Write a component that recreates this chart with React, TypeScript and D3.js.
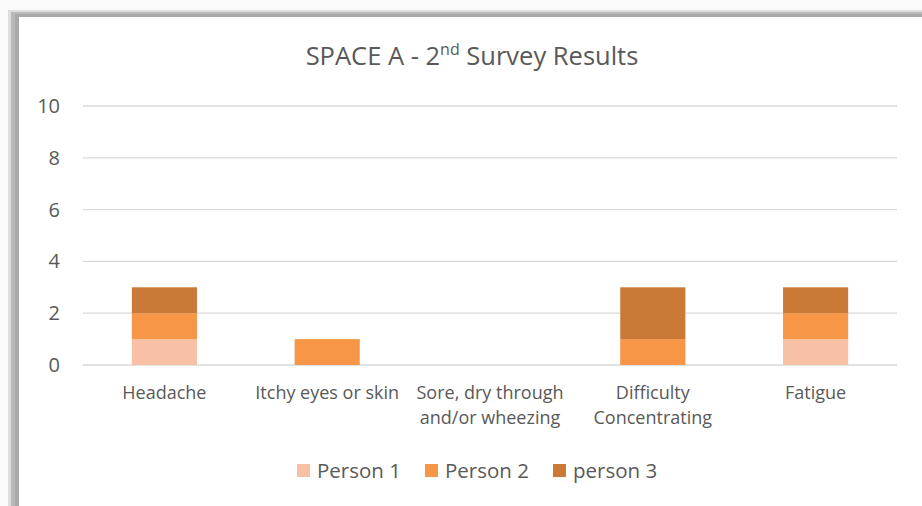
import React from "react";
import * as d3 from "d3";

const categories = [
  ["Headache"],
  ["Itchy eyes or skin"],
  ["Sore, dry through", "and/or wheezing"],
  ["Difficulty", "Concentrating"],
  ["Fatigue"],
];
const seriesNames = ["Person 1", "Person 2", "person 3"];
const person1 = [1, 0, 0, 0, 1];
const person2 = [1, 1, 0, 1, 1];
const person3 = [1, 0, 0, 2, 1];
const yTicks = [0, 2, 4, 6, 8, 10];
const colors = ["#F8C1A6", "#F79646", "#CB7936"];

const W = 922;
const H = 506;
const FONT = "'Open Sans', sans-serif";
const TXT = "#595959";

export default function App() {
  const keys = categories.map((c) => c.join(" "));
  const x = d3.scaleBand<string>().domain(keys).range([83, 897]).paddingInner(0.6).paddingOuter(0.3);
  const y = d3.scaleLinear().domain([0, 10]).range([365, 106]);
  const rows = keys.map((k, i) => ({ key: k, s0: person1[i], s1: person2[i], s2: person3[i] }));
  const stack = d3.stack<any>().keys(["s0", "s1", "s2"])(rows);

  const legendX = [297, 425, 553];

  return (
    <div style={{ position: "absolute", left: 0, top: 0 }}>
      <svg width={W} height={H} style={{ display: "block" }}>
        <rect x={0} y={0} width={W} height={H} fill="#fafafa" />
        <rect x={8} y={10} width={W} height={H} fill="#dedede" />
        <rect x={11} y={12} width={W} height={H} fill="#b9b9b9" />
        <rect x={15} y={14} width={W} height={H} fill="#a9a9a9" />
        <rect x={19} y={17} width={W} height={H} fill="#ffffff" />

        <text x={472} y={65} textAnchor="middle" fontFamily={FONT} fontSize={25.5} fill={TXT}>
          SPACE A - 2<tspan dy={-10} fontSize={16}>nd</tspan>
          <tspan dy={10}> Survey Results</tspan>
        </text>

        {yTicks.map((t) => (
          <g key={t}>
            <line x1={83} x2={897} y1={y(t)} y2={y(t)} stroke="#d9d9d9" strokeWidth={1.3} />
            <text x={60} y={y(t) + 7} textAnchor="end" fontFamily={FONT} fontSize={20} fill={TXT}>
              {t}
            </text>
          </g>
        ))}

        {stack.map((layer, si) =>
          layer.map((d, i) => {
            const h = y(d[0]) - y(d[1]);
            if (h <= 0) return null;
            return (
              <rect
                key={si + "-" + i}
                x={x(keys[i])}
                y={y(d[1])}
                width={x.bandwidth()}
                height={h}
                fill={colors[si]}
              />
            );
          })
        )}

        {categories.map((lines, i) => (
          <text
            key={i}
            x={(x(keys[i]) as number) + x.bandwidth() / 2}
            y={399}
            textAnchor="middle"
            fontFamily={FONT}
            fontSize={18}
            fill={TXT}
          >
            {lines.map((l, j) => (
              <tspan key={j} x={(x(keys[i]) as number) + x.bandwidth() / 2} dy={j === 0 ? 0 : 25}>
                {l}
              </tspan>
            ))}
          </text>
        ))}

        {seriesNames.map((n, i) => (
          <g key={n}>
            <rect x={legendX[i]} y={464} width={13} height={13} fill={colors[i]} />
            <text x={legendX[i] + 20} y={478} fontFamily={FONT} fontSize={20.5} fill={TXT}>
              {n}
            </text>
          </g>
        ))}
      </svg>
    </div>
  );
}
